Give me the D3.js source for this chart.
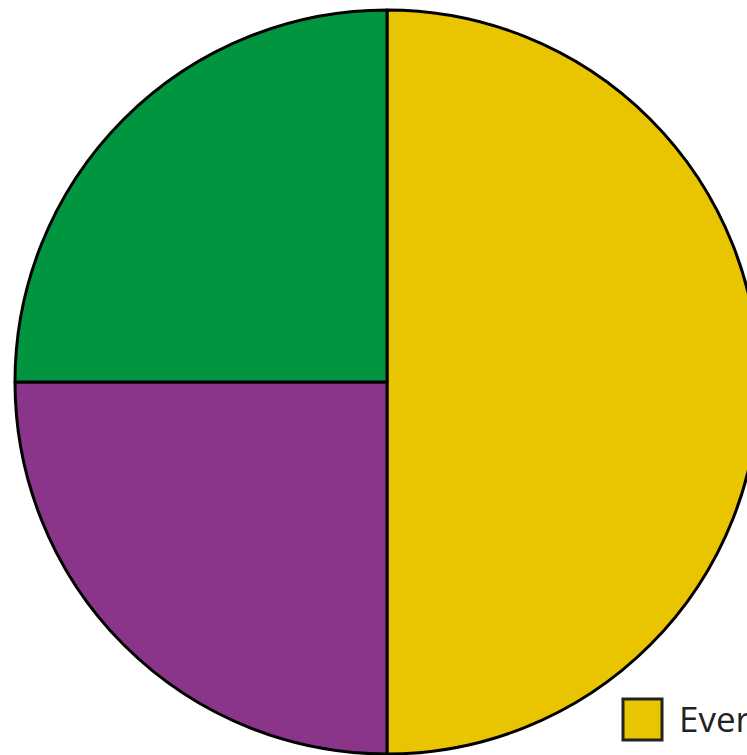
<!DOCTYPE html>
<html><head><meta charset="utf-8">
<script src="https://cdn.jsdelivr.net/npm/d3@7"></script>
<style>html,body{margin:0;padding:0;background:#fff;overflow:hidden}</style>
</head><body>
<svg id="c" width="747" height="755"></svg>
<script>
const categories = ["Every day", "Sometimes", "Never"];
const values = [50, 25, 25];
const colors = ["#E8C500", "#8A3589", "#029540"];

const svg = d3.select("#c");
const cx = 387, cy = 382, r = 372;
const pie = d3.pie().sort(null).value(d => d.v);
const arcs = pie(categories.map((c, i) => ({c, v: values[i], col: colors[i]})));
const arc = d3.arc().innerRadius(0).outerRadius(r);
const g = svg.append("g").attr("transform", `translate(${cx},${cy})`);
g.selectAll("path").data(arcs).join("path")
  .attr("d", arc)
  .attr("fill", d => d.data.col)
  .attr("stroke", "#000")
  .attr("stroke-width", 3)
  .attr("stroke-linejoin", "round");

const leg = svg.append("g").attr("transform", "translate(623,699)");
const items = leg.selectAll("g").data(categories).join("g")
  .attr("transform", (d, i) => `translate(${i * 260},0)`);
items.append("rect").attr("width", 39).attr("height", 41)
  .attr("fill", (d, i) => colors[i]).attr("stroke", "#222").attr("stroke-width", 3);
items.append("text").attr("x", 56).attr("y", 33)
  .attr("font-family", "Open Sans, sans-serif").attr("font-size", 35)
  .attr("fill", "#222").text(d => d);
</script>
</body></html>
